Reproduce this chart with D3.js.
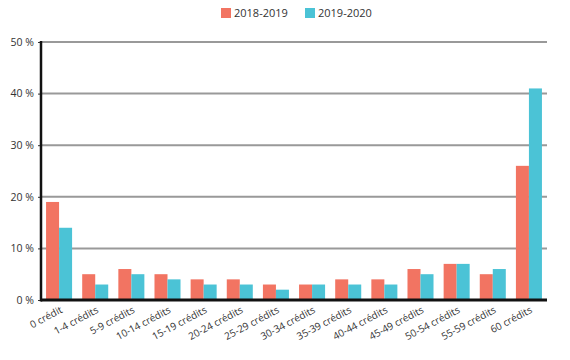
<!DOCTYPE html>
<html><head><meta charset="utf-8">
<script src="https://cdn.jsdelivr.net/npm/d3@7"></script>
<style>body{margin:0;background:#fff;} text{font-family:"Open Sans",sans-serif;}</style>
</head><body>
<svg id="c" width="570" height="360"></svg>
<script>
const categories = ["0 crédit","1-4 crédits","5-9 crédits","10-14 crédits","15-19 crédits","20-24 crédits","25-29 crédits","30-34 crédits","35-39 crédits","40-44 crédits","45-49 crédits","50-54 crédits","55-59 crédits","60 crédits"];
const series2018 = [19,5,6,5,4,4,3,3,4,4,6,7,5,26];
const series2019 = [14,3,5,4,3,3,2,3,3,3,5,7,6,41];
const seriesNames = ["2018-2019","2019-2020"];
const colors = ["#F27462","#4BC3D6"];
const yTicks = [0,10,20,30,40,50];

const svg = d3.select("#c");
const m = {l:41, r:23, t:42, b:60};
const W = 570, H = 360;
const x = d3.scaleBand().domain(categories).range([m.l, W-m.r]).paddingInner(0.28).paddingOuter(0.14);
const x1 = d3.scaleBand().domain(seriesNames).range([0, x.bandwidth()]);
const y = d3.scaleLinear().domain([0,50]).range([H-m.b, m.t]);

// gridlines
svg.append("g").selectAll("line").data(yTicks.filter(d=>d>0)).join("line")
  .attr("x1", m.l).attr("x2", W-m.r).attr("y1", d=>y(d)).attr("y2", d=>y(d))
  .attr("stroke", "#999").attr("stroke-width", 2);

// y axis labels + ticks
const yAxis = d3.axisLeft(y).tickValues(yTicks).tickFormat(d=>d+" %").tickSize(3).tickPadding(4);
const ga = svg.append("g").attr("transform", `translate(${m.l},0)`).call(yAxis);
ga.select(".domain").remove();
ga.selectAll("text").attr("font-size", 10.5).attr("fill", "#333").attr("font-family", '"Open Sans",sans-serif');
ga.selectAll("line").attr("stroke", "#333");

// bars
const data = categories.map((c,i)=>({c, vals:[series2018[i], series2019[i]]}));
const g = svg.append("g").selectAll("g").data(data).join("g").attr("transform", d=>`translate(${x(d.c)},0)`);
g.selectAll("rect").data(d=>d.vals.map((v,j)=>({v, s:seriesNames[j], j}))).join("rect")
  .attr("x", d=>x1(d.s)).attr("width", x1.bandwidth())
  .attr("y", d=>y(d.v)).attr("height", d=>y(0)-y(d.v))
  .attr("fill", d=>colors[d.j]);

// axes lines
svg.append("line").attr("x1", m.l).attr("x2", m.l).attr("y1", y(50)-1).attr("y2", y(0)+1.5)
  .attr("stroke", "#111").attr("stroke-width", 2.5);
svg.append("line").attr("x1", m.l).attr("x2", W-m.r).attr("y1", y(0)).attr("y2", y(0))
  .attr("stroke", "#111").attr("stroke-width", 3);

// x labels
const xAxis = d3.axisBottom(x).tickSize(0).tickPadding(0);
const gx = svg.append("g").attr("transform", `translate(0,${y(0)})`).call(xAxis);
gx.select(".domain").remove();
gx.selectAll("text").attr("font-size", 10).attr("fill", "#333").attr("font-family", '"Open Sans",sans-serif')
  .attr("text-anchor", "end").attr("dy", "0").attr("y", 0)
  .attr("transform", "translate(4,12) rotate(-28)");

// legend
const leg = svg.append("g");
const lx = [221, 305];
seriesNames.forEach((s,i)=>{
  leg.append("rect").attr("x", lx[i]).attr("y", 8).attr("width", 10).attr("height", 10).attr("fill", colors[i]);
  leg.append("text").attr("x", lx[i]+13).attr("y", 17).attr("font-size", 11).attr("fill", "#333").text(s);
});
</script>
</body></html>
